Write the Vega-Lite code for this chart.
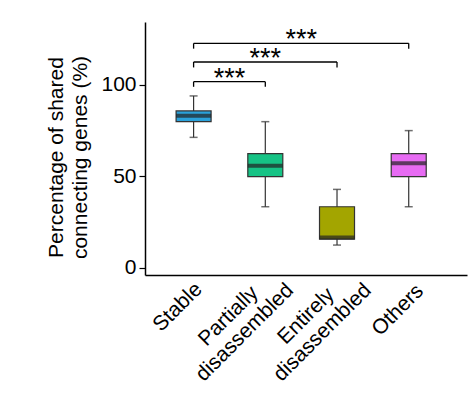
{
  "$schema": "https://vega.github.io/schema/vega-lite/v6.json",
  "width": 322,
  "height": 253,
  "autosize": "none",
  "padding": {"left": 145, "top": 22, "right": 9, "bottom": 119},
  "background": "white",
  "config": {
    "view": {"stroke": null},
    "font": "Liberation Sans",
    "axis": {
      "grid": false,
      "domainColor": "#000",
      "domainWidth": 1.5,
      "tickColor": "#000",
      "tickWidth": 1.2,
      "labelFont": "Liberation Sans",
      "labelFontSize": 21,
      "labelColor": "#000",
      "titleFont": "Liberation Sans",
      "titleFontSize": 21,
      "titleFontWeight": "normal",
      "titleColor": "#000"
    }
  },
  "datasets": {
    "boxes": [
      {"group": "Stable", "i": 1, "min": 71.3, "q1": 79.9, "median": 83.2, "q3": 85.8, "max": 94.0},
      {"group": "Partially disassembled", "i": 2, "min": 33.3, "q1": 49.8, "median": 55.8, "q3": 62.4, "max": 79.9},
      {"group": "Entirely disassembled", "i": 3, "min": 12.3, "q1": 15.6, "median": 16.5, "q3": 33.3, "max": 42.8},
      {"group": "Others", "i": 4, "min": 33.3, "q1": 49.8, "median": 57.1, "q3": 62.4, "max": 75.0}
    ],
    "brackets": [
      {"a": 1, "b": 2, "m": 1.5, "y": 101.8, "arm": 99.0, "label": "***"},
      {"a": 1, "b": 3, "m": 2.0, "y": 112.6, "arm": 109.6, "label": "***"},
      {"a": 1, "b": 4, "m": 2.5, "y": 122.8, "arm": 119.9, "label": "***"}
    ]
  },
  "layer": [
    {
      "data": {"name": "boxes"},
      "mark": {"type": "rule", "color": "#333", "strokeWidth": 1.2},
      "encoding": {
        "x": {
          "field": "i", "type": "quantitative",
          "scale": {"domain": [0.392, 4.743], "nice": false, "zero": false},
          "axis": {
            "values": [1, 2, 3, 4],
            "title": null,
            "ticks": false,
            "tickSize": 0,
            "labelExpr": "datum.value == 1 ? 'Stable' : datum.value == 2 ? ['Partially', 'disassembled'] : datum.value == 3 ? ['Entirely', 'disassembled'] : 'Others'",
            "labelAngle": -45,
            "labelAlign": "center",
            "labelBaseline": "top",
            "labelLineHeight": 23,
            "labelOverlap": false,
            "labelBound": false,
            "labelFlush": false,
            "labelOffset": {"condition": [
              {"test": "datum.value == 2", "value": -45},
              {"test": "datum.value == 3", "value": -39},
              {"test": "datum.value == 4", "value": -19}
            ], "value": -24},
            "labelPadding": {"condition": [
              {"test": "datum.value == 2 || datum.value == 3", "value": 33},
              {"test": "datum.value == 4", "value": 27}
            ], "value": 24}
          }
        },
        "y": {
          "field": "min", "type": "quantitative",
          "scale": {"domain": [-4.1, 134.5], "nice": false, "zero": false},
          "axis": {
            "values": [0, 50, 100],
            "title": ["Percentage of shared", "connecting genes (%)"],
            "titleAngle": 270,
            "titleAlign": "center",
            "titleBaseline": "top",
            "titleX": -100,
            "titleY": 135,
            "titleLineHeight": 24,
            "tickSize": 6,
            "labelPadding": 3
          }
        },
        "y2": {"field": "max"}
      }
    },
    {
      "data": {"name": "boxes"},
      "mark": {"type": "bar", "size": 35, "stroke": "#333", "strokeWidth": 1.2},
      "encoding": {
        "x": {"field": "i", "type": "quantitative"},
        "y": {"field": "q1", "type": "quantitative"},
        "y2": {"field": "q3"},
        "color": {
          "field": "group", "type": "nominal", "legend": null,
          "scale": {
            "domain": ["Stable", "Partially disassembled", "Entirely disassembled", "Others"],
            "range": ["#2aa1da", "#16c385", "#a3a500", "#e76bf3"]
          }
        }
      }
    },
    {
      "data": {"name": "boxes"},
      "mark": {"type": "tick", "orient": "horizontal", "size": 35, "thickness": 4, "color": "#222"},
      "encoding": {
        "x": {"field": "i", "type": "quantitative"},
        "y": {"field": "median", "type": "quantitative"}
      }
    },
    {
      "data": {"name": "boxes"},
      "mark": {"type": "tick", "orient": "horizontal", "size": 8, "thickness": 1.5, "color": "#333"},
      "encoding": {
        "x": {"field": "i", "type": "quantitative"},
        "y": {"field": "min", "type": "quantitative"}
      }
    },
    {
      "data": {"name": "boxes"},
      "mark": {"type": "tick", "orient": "horizontal", "size": 8, "thickness": 1.5, "color": "#333"},
      "encoding": {
        "x": {"field": "i", "type": "quantitative"},
        "y": {"field": "max", "type": "quantitative"}
      }
    },
    {
      "data": {"name": "brackets"},
      "mark": {"type": "rule", "color": "#000", "strokeWidth": 1.3},
      "encoding": {
        "x": {"field": "a", "type": "quantitative"},
        "x2": {"field": "b"},
        "y": {"field": "y", "type": "quantitative"}
      }
    },
    {
      "data": {"name": "brackets"},
      "mark": {"type": "rule", "color": "#000", "strokeWidth": 1.3},
      "encoding": {
        "x": {"field": "a", "type": "quantitative"},
        "y": {"field": "y", "type": "quantitative"},
        "y2": {"field": "arm"}
      }
    },
    {
      "data": {"name": "brackets"},
      "mark": {"type": "rule", "color": "#000", "strokeWidth": 1.3},
      "encoding": {
        "x": {"field": "b", "type": "quantitative"},
        "y": {"field": "y", "type": "quantitative"},
        "y2": {"field": "arm"}
      }
    },
    {
      "data": {"name": "brackets"},
      "mark": {"type": "text", "fontSize": 27, "font": "Liberation Sans", "baseline": "alphabetic", "align": "center", "dy": 5, "color": "#000"},
      "encoding": {
        "x": {"field": "m", "type": "quantitative"},
        "y": {"field": "y", "type": "quantitative"},
        "text": {"field": "label"}
      }
    }
  ]
}
